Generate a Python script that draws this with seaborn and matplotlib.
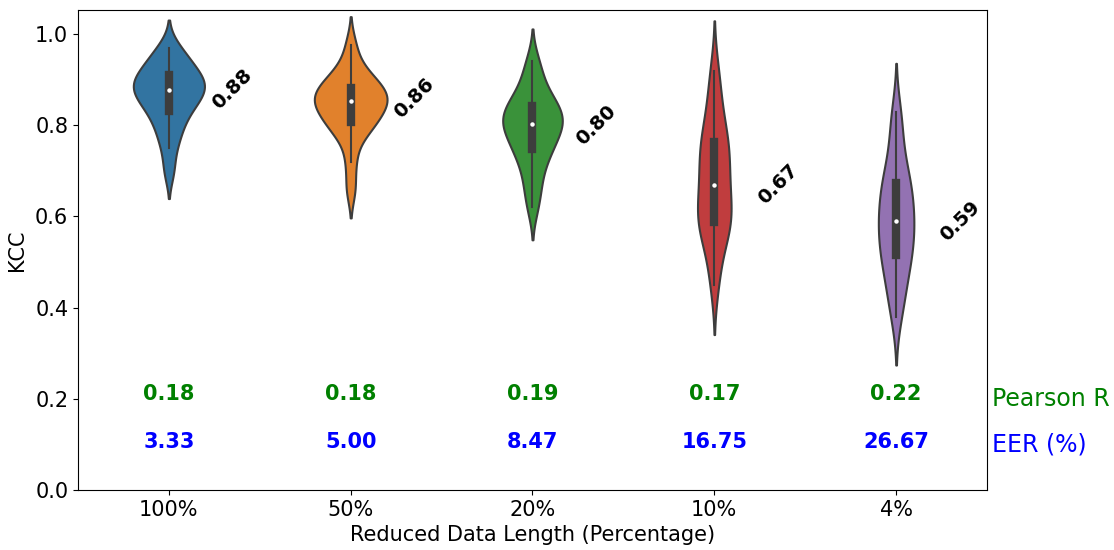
import pandas as pd
import numpy as np
import matplotlib.pyplot as plt
import seaborn as sns

categories = ['100%', '50%', '20%', '10%', '4%']

# KCC samples (box/whiskers/tails)
kcc_100 = [0.70, 0.75, 0.78, 0.80, 0.82, 0.835, 0.845, 0.855, 0.865, 0.875,
           0.88, 0.885, 0.89, 0.90, 0.91, 0.915, 0.925, 0.94, 0.955, 0.97]
kcc_50 = [0.66, 0.72, 0.77, 0.79, 0.80, 0.81, 0.82, 0.83, 0.84, 0.85,
          0.855, 0.86, 0.865, 0.87, 0.88, 0.89, 0.90, 0.91, 0.93, 0.975]
kcc_20 = [0.62, 0.66, 0.69, 0.72, 0.74, 0.75, 0.76, 0.78, 0.79, 0.80,
          0.805, 0.81, 0.82, 0.83, 0.84, 0.85, 0.86, 0.88, 0.91, 0.94]
kcc_10 = [0.45, 0.50, 0.55, 0.57, 0.58, 0.59, 0.60, 0.62, 0.64, 0.66,
          0.68, 0.70, 0.72, 0.74, 0.76, 0.77, 0.79, 0.83, 0.87, 0.92]
kcc_4 = [0.38, 0.42, 0.45, 0.48, 0.50, 0.52, 0.53, 0.55, 0.57, 0.58,
         0.60, 0.61, 0.63, 0.65, 0.67, 0.68, 0.70, 0.74, 0.79, 0.83]

mean_labels = [0.88, 0.86, 0.80, 0.67, 0.59]
pearson_r = ['0.18', '0.18', '0.19', '0.17', '0.22']
eer = ['3.33', '5.00', '8.47', '16.75', '26.67']

samples = [kcc_100, kcc_50, kcc_20, kcc_10, kcc_4]
df = pd.DataFrame({
    'length': np.repeat(categories, [len(s) for s in samples]),
    'KCC': np.concatenate(samples),
})

fig = plt.figure(figsize=(11.14, 5.5), dpi=100)
ax = fig.add_axes([0.070, 0.109, 0.816, 0.873])

sns.violinplot(data=df, x='length', y='KCC', hue='length', order=categories,
               palette='tab10', legend=False, width=0.4, linewidth=1.5,
               common_norm=True, bw_adjust=0.8,
               inner_kws=dict(box_width=6, whis_width=1.5, marker='.',
                              markersize=4),
               ax=ax)

for i, m in enumerate(mean_labels):
    ax.text(i + 0.35, m, f'{m:.2f}', rotation=45, fontsize=14, fontweight='bold',
            ha='center', va='center', color='black')
    ax.text(i, 0.21, pearson_r[i], fontsize=15, fontweight='bold', color='green',
            ha='center', va='center')
    ax.text(i, 0.105, eer[i], fontsize=15, fontweight='bold', color='blue',
            ha='center', va='center')

ax.text(1.005, 0.2, 'Pearson R', transform=ax.get_yaxis_transform(),
        fontsize=17, color='green', va='center', ha='left')
ax.text(1.005, 0.1, 'EER (%)', transform=ax.get_yaxis_transform(),
        fontsize=17, color='blue', va='center', ha='left')

ax.set_ylim(0, 1.053)
ax.set_xlim(-0.5, 4.5)
ax.set_xlabel('Reduced Data Length (Percentage)', fontsize=15, labelpad=4)
ax.set_ylabel('KCC', fontsize=15, labelpad=6)
ax.tick_params(labelsize=15)

fig.savefig('out.png', dpi=100)
